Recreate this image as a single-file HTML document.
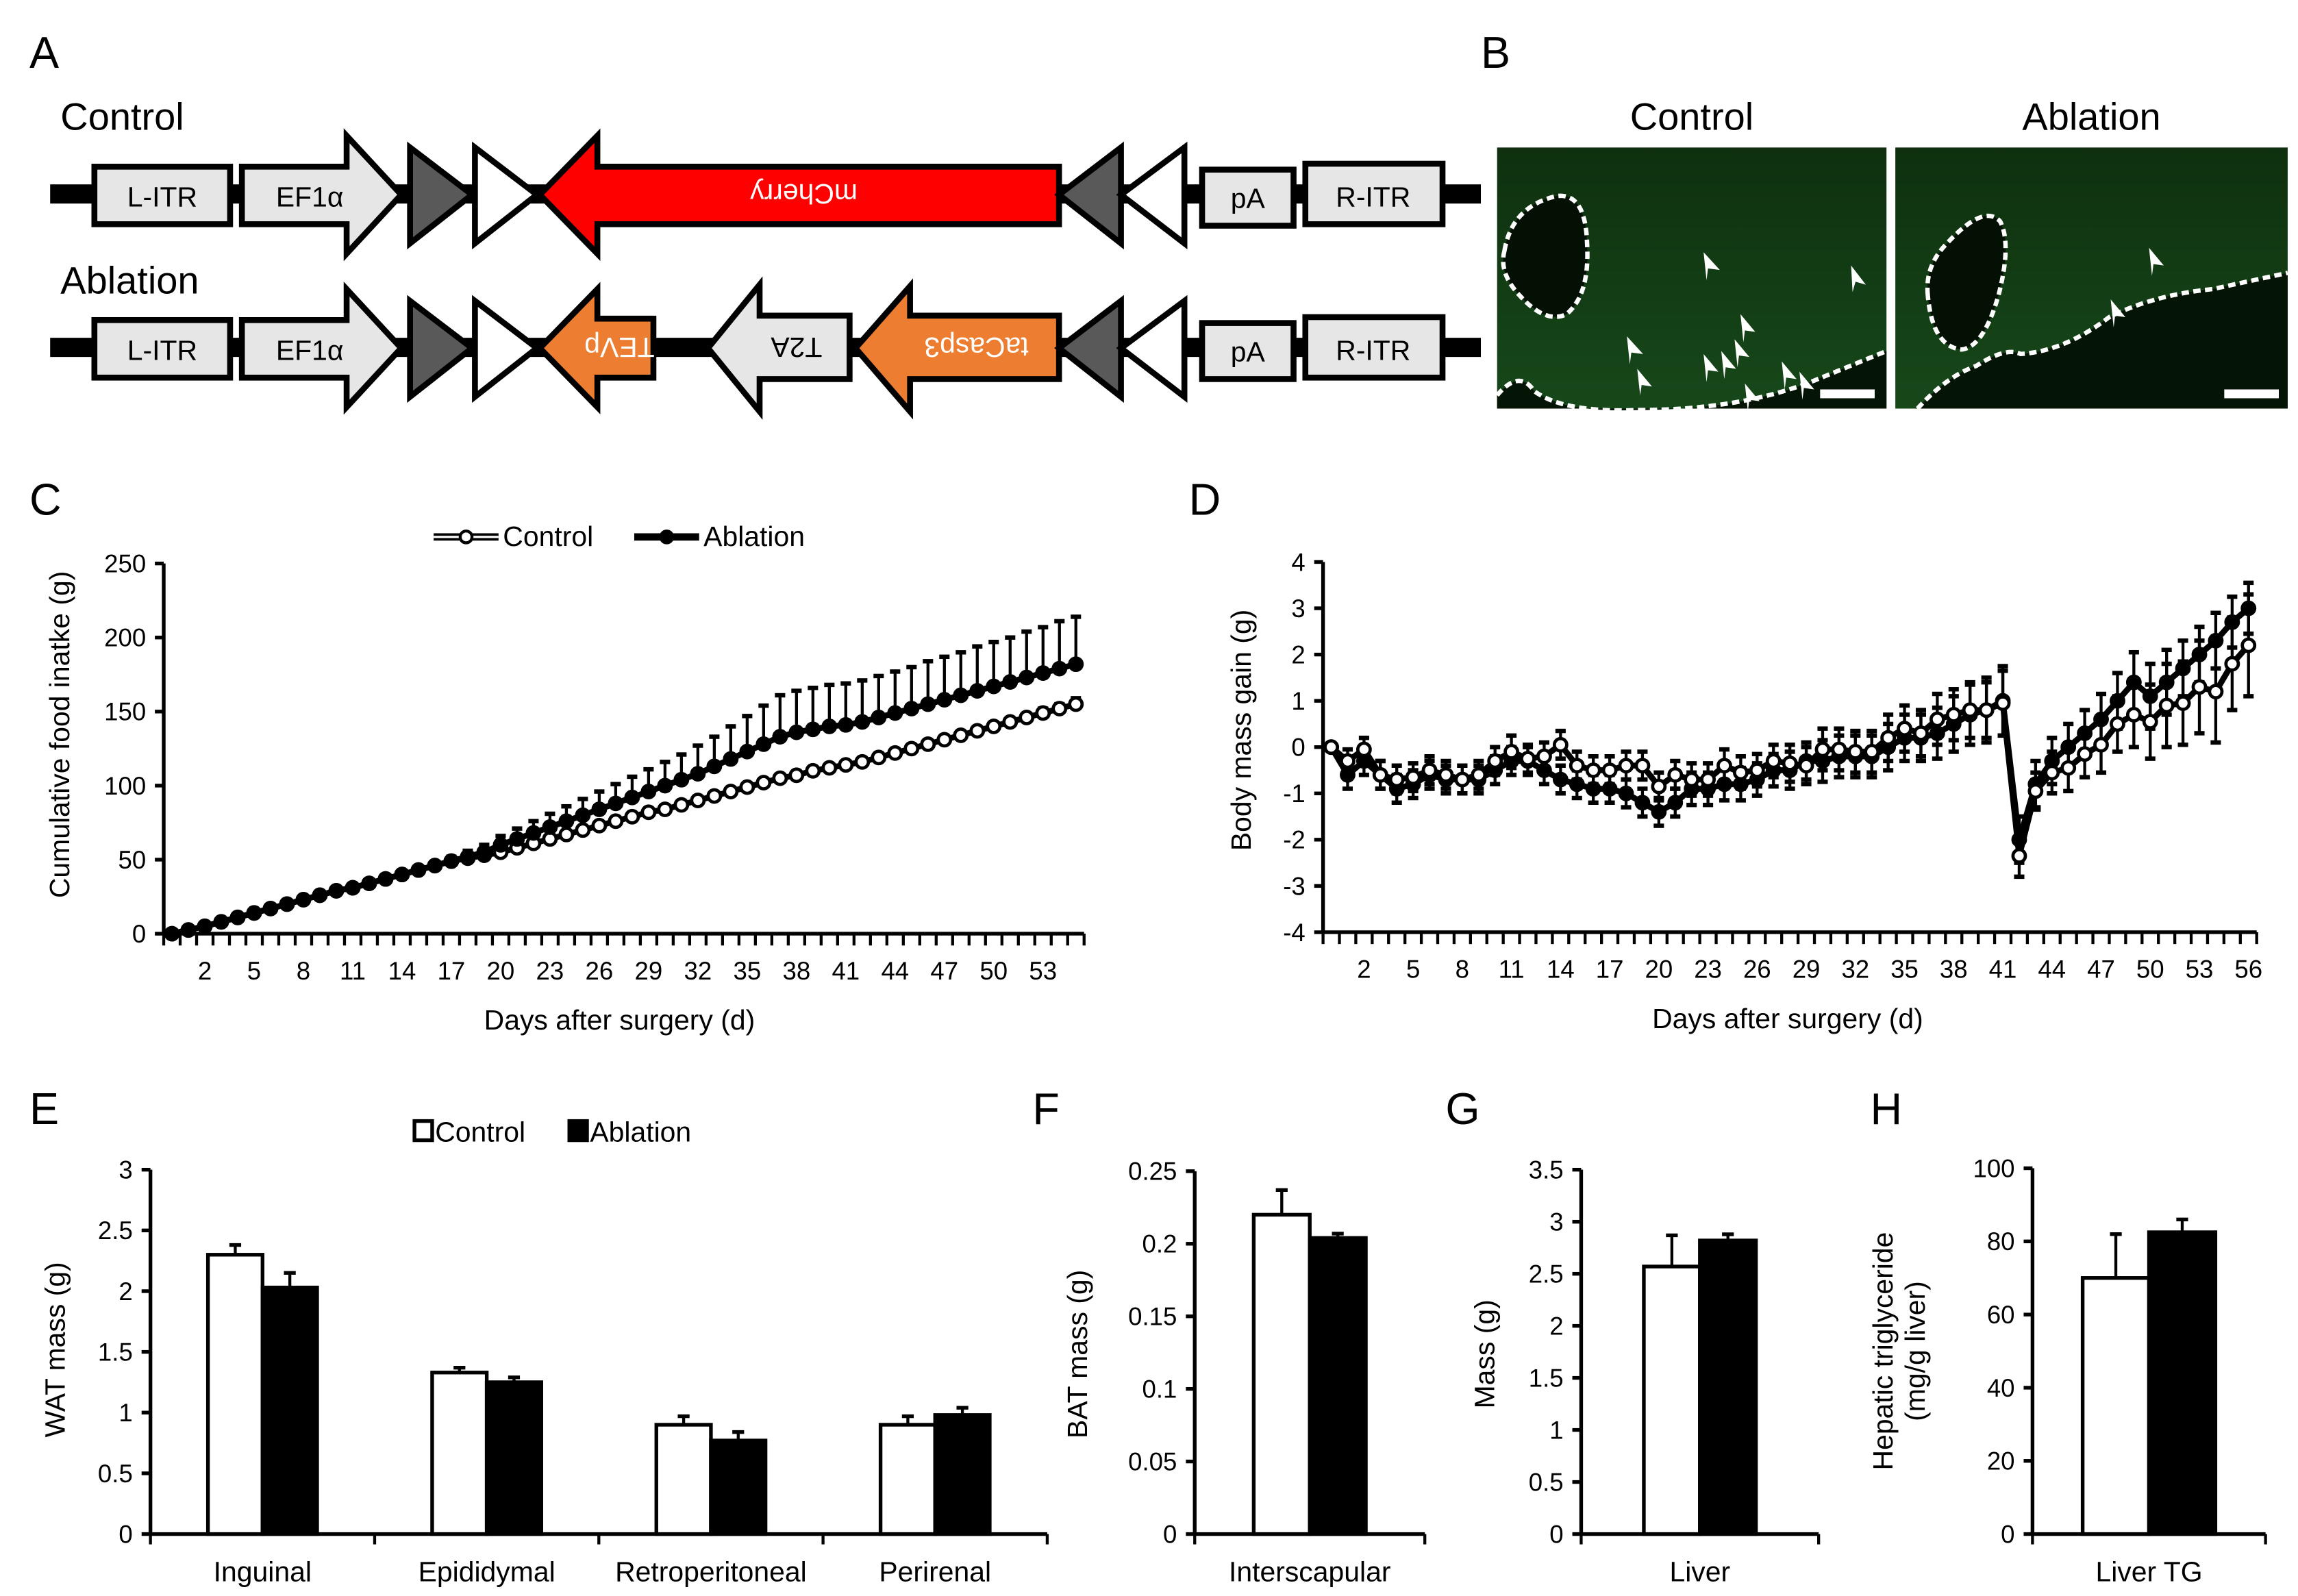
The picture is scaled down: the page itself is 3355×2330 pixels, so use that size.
<!DOCTYPE html>
<html><head><meta charset="utf-8"><style>
html,body{margin:0;padding:0;background:#fff}
svg{display:block}
text{font-family:"Liberation Sans",Arial,sans-serif;fill:#000}
</style></head><body>
<svg id="fig" xmlns="http://www.w3.org/2000/svg" width="3355" height="2330" viewBox="0 0 1558 1082" preserveAspectRatio="none">
<rect width="1558" height="1082" fill="#fff"/>
<!-- Panel A -->
<g stroke="#000" stroke-width="4" stroke-linejoin="miter">
<text x="20" y="46" font-size="30" stroke="none">A</text>
<text x="41" y="88" font-size="26" stroke="none">Control</text>
<text x="41" y="199" font-size="26" stroke="none">Ablation</text>
<g>
<rect x="34" y="125" width="970" height="13" fill="#000" stroke="none"/>
<rect x="64" y="113" width="92" height="39" fill="#e6e6e6"/>
<polygon points="164,113 235,113 235,92 272,132 235,172 235,152 164,152" fill="#e6e6e6"/>
<polygon points="278,100 320,132 278,165" fill="#595959"/>
<polygon points="322,100 364,132 322,165" fill="#fff"/>
<polygon points="366,132 405,92 405,113 718,113 718,152 405,152 405,172" fill="#ff0000"/>
<polygon points="718,132 760,100 760,165" fill="#595959"/>
<polygon points="760,132 803,100 803,165" fill="#fff"/>
<rect x="815" y="115" width="62" height="38" fill="#e6e6e6"/>
<rect x="885" y="111" width="93" height="41" fill="#e6e6e6"/>
<g stroke="none" font-size="19">
<text x="110" y="140" text-anchor="middle">L-ITR</text>
<text x="210" y="140" text-anchor="middle">EF1α</text>
<text x="545" y="139" text-anchor="middle" transform="rotate(180 545 132)" style="fill:#fff">mCherry</text>
<text x="846" y="141" text-anchor="middle">pA</text>
<text x="931" y="140" text-anchor="middle">R-ITR</text>
</g></g>
<g>
<rect x="34" y="229" width="970" height="13" fill="#000" stroke="none"/>
<rect x="64" y="217" width="92" height="39" fill="#e6e6e6"/>
<polygon points="164,217 235,217 235,196 272,236 235,276 235,256 164,256" fill="#e6e6e6"/>
<polygon points="278,204 320,236 278,269" fill="#595959"/>
<polygon points="322,204 364,236 322,269" fill="#fff"/>
<polygon points="366,236 405,196 405,216 443,216 443,256 405,256 405,276" fill="#ed7d31"/>
<polygon points="480,236 515,193 515,214 576,214 576,257 515,257 515,279" fill="#e6e6e6"/>
<polygon points="580,236 617,194 617,214 718,214 718,257 617,257 617,279" fill="#ed7d31"/>
<polygon points="718,236 760,204 760,269" fill="#595959"/>
<polygon points="760,236 803,204 803,269" fill="#fff"/>
<rect x="815" y="219" width="62" height="38" fill="#e6e6e6"/>
<rect x="885" y="215" width="93" height="41" fill="#e6e6e6"/>
<g stroke="none" font-size="19">
<text x="110" y="244" text-anchor="middle">L-ITR</text>
<text x="210" y="244" text-anchor="middle">EF1α</text>
<text x="420" y="243" text-anchor="middle" transform="rotate(180 420 236)" style="fill:#fff">TEVp</text>
<text x="540" y="243" text-anchor="middle" transform="rotate(180 540 236)">T2A</text>
<text x="662" y="243" text-anchor="middle" transform="rotate(180 662 236)" style="fill:#fff">taCasp3</text>
<text x="846" y="245" text-anchor="middle">pA</text>
<text x="931" y="244" text-anchor="middle">R-ITR</text>
</g></g>
</g>
<!-- Panel B -->
<g>
<text x="1004" y="46" font-size="30">B</text>
<text x="1147" y="88" font-size="26" text-anchor="middle">Control</text>
<text x="1418" y="88" font-size="26" text-anchor="middle">Ablation</text>
<defs>
<linearGradient id="gg" x1="0" y1="0" x2="0" y2="1"><stop offset="0" stop-color="#0e300e"/><stop offset="1" stop-color="#17481a"/></linearGradient>
</defs>
<g>
<rect x="1015" y="100" width="264" height="177" fill="url(#gg)"/>
<path d="M1015,277 L1015,268 Q1030,250 1040,265 Q1060,280 1110,278 Q1180,278 1230,258 L1279,238 L1279,277 Z" fill="#051505"/>
<path d="M1015,268 Q1030,250 1040,265 Q1060,280 1110,278 Q1180,278 1230,258 L1279,238" fill="none" stroke="#fff" stroke-width="3" stroke-dasharray="5,3"/>
<path d="M1020,170 Q1025,140 1055,133 Q1075,130 1076,165 Q1078,200 1062,213 Q1048,220 1030,200 Q1016,185 1020,170 Z" fill="#041004" stroke="#fff" stroke-width="3" stroke-dasharray="5,3"/>
<rect x="1234" y="264" width="37" height="6" fill="#fff"/>
<g fill="#fff"><polygon points="1155,171 1166,183 1158,182 1157,190"/><polygon points="1255,180 1265,193 1258,191 1256,198"/><polygon points="1103,228 1114,240 1106,239 1105,247"/><polygon points="1110,250 1120,262 1113,261 1112,268"/><polygon points="1155,240 1165,252 1158,251 1157,259"/><polygon points="1167,238 1177,250 1170,249 1169,257"/><polygon points="1176,230 1186,242 1179,241 1178,249"/><polygon points="1180,213 1190,225 1183,224 1182,232"/><polygon points="1208,245 1218,257 1211,256 1210,264"/><polygon points="1220,252 1230,264 1223,263 1222,271"/><polygon points="1183,260 1193,272 1186,271 1185,279"/></g>
</g>
<g>
<rect x="1285" y="100" width="266" height="177" fill="url(#gg)"/>
<path d="M1300,277 Q1320,255 1340,248 Q1360,235 1370,240 Q1400,238 1430,215 Q1460,200 1500,196 L1551,185 L1551,277 Z" fill="#051505"/>
<path d="M1300,277 Q1320,255 1340,248 Q1360,235 1370,240 Q1400,238 1430,215 Q1460,200 1500,196 L1551,185" fill="none" stroke="#fff" stroke-width="3" stroke-dasharray="5,3"/>
<path d="M1307,200 Q1305,180 1320,165 Q1345,138 1356,150 Q1364,165 1355,200 Q1345,235 1330,237 Q1310,235 1307,200 Z" fill="#041004" stroke="#fff" stroke-width="3" stroke-dasharray="5,3"/>
<rect x="1508" y="264" width="37" height="6" fill="#fff"/>
<g fill="#fff"><polygon points="1457,168 1467,180 1460,179 1459,187"/><polygon points="1431,203 1441,215 1434,214 1433,222"/></g>
</g>
</g>
<g id="charts"></g>
</svg>
<script>
// ---------- Panel C data ----------
const cDays = [0,1,2,3,4,5,6,7,8,9,10,11,12,13,14,15,16,17,18,19,20,21,22,23,24,25,26,27,28,29,30,31,32,33,34,35,36,37,38,39,40,41,42,43,44,45,46,47,48,49,50,51,52,53,54,55];
const cTickLabels = ["2","5","8","11","14","17","20","23","26","29","32","35","38","41","44","47","50","53"];
const cYTicks = [0,50,100,150,200,250];
const cControl = [0,2.5,5,8,11,14,17,20,23,26,29,31,34,37,40,43,46,49,51,53,55,58,61,64,67,70,73,76,79,82,84,87,90,93,96,99,102,105,107,110,112,114,116,119,122,125,128,131,134,137,140,143,146,149,152,155];
const cControlErr = [0,0,0,0,0,0,0,0,1,1,1,1,1,1,1,1,2,2,2,2,2,2,2,2,2,2,2,2,2,2,2,2,2,2,2,2,2,2,2,2,2,2,2,2,2,2,2,2,2,2,2,2,2,3,3,4];
const cAblation = [0,2.5,5,8,11,14,17,20,23,26,29,31,34,37,40,43,46,49,52,55,60,64,68,72,76,80,84,88,92,96,100,104,108,113,118,123,128,133,136,138,140,141,143,146,149,152,155,158,161,164,167,170,173,176,179,182];
const cAblationErr = [0,0,0,0,0,0,0,0,0,0,0,0,0,0,0,1,2,3,4,5,6,7,8,9,10,11,12,13,14,15,16,17,19,20,22,24,26,28,28,28,28,28,28,28,28,28,29,29,29,30,30,30,31,31,32,32];
// ---------- Panel D data ----------
const dDays = [0,1,2,3,4,5,6,7,8,9,10,11,12,13,14,15,16,17,18,19,20,21,22,23,24,25,26,27,28,29,30,31,32,33,34,35,36,37,38,39,40,41,42,43,44,45,46,47,48,49,50,51,52,53,54,55,56];
const dTickLabels = ["2","5","8","11","14","17","20","23","26","29","32","35","38","41","44","47","50","53","56"];
const dYTicks = [-4,-3,-2,-1,0,1,2,3,4];
const dControl = [0,-0.3,-0.05,-0.6,-0.7,-0.65,-0.5,-0.6,-0.7,-0.6,-0.3,-0.1,-0.25,-0.2,0.05,-0.4,-0.5,-0.5,-0.4,-0.4,-0.85,-0.6,-0.7,-0.7,-0.4,-0.55,-0.5,-0.3,-0.35,-0.4,-0.05,-0.05,-0.1,-0.1,0.2,0.4,0.3,0.6,0.7,0.8,0.8,0.95,-2.35,-0.95,-0.55,-0.45,-0.15,0.05,0.5,0.7,0.55,0.9,0.95,1.3,1.2,1.8,2.2];
const dControlErr = [0,0.25,0.25,0.3,0.3,0.3,0.3,0.3,0.3,0.3,0.3,0.35,0.3,0.3,0.3,0.3,0.3,0.3,0.3,0.3,0.3,0.3,0.35,0.35,0.35,0.35,0.35,0.35,0.4,0.4,0.45,0.45,0.45,0.45,0.5,0.5,0.5,0.55,0.55,0.6,0.6,0.7,0.45,0.4,0.45,0.5,0.5,0.6,0.6,0.7,0.8,0.9,0.9,1.0,1.1,1.0,1.1];
const dAblation = [0,-0.6,-0.3,-0.6,-0.9,-0.8,-0.6,-0.7,-0.7,-0.7,-0.5,-0.3,-0.3,-0.5,-0.7,-0.8,-0.9,-0.9,-1.0,-1.2,-1.4,-1.2,-0.9,-0.9,-0.8,-0.8,-0.7,-0.5,-0.5,-0.3,-0.3,-0.2,-0.2,-0.2,0,0.2,0.2,0.3,0.5,0.7,0.8,1.0,-2.0,-0.8,-0.3,0,0.3,0.6,1.0,1.4,1.1,1.4,1.7,2.0,2.3,2.7,3.0];
const dAblationErr = [0,0.3,0.3,0.3,0.3,0.3,0.3,0.3,0.3,0.3,0.3,0.3,0.3,0.3,0.3,0.3,0.3,0.3,0.3,0.3,0.3,0.3,0.35,0.35,0.35,0.35,0.35,0.35,0.4,0.4,0.45,0.45,0.45,0.45,0.5,0.5,0.5,0.55,0.6,0.65,0.7,0.75,0.5,0.5,0.5,0.5,0.5,0.55,0.6,0.65,0.7,0.7,0.6,0.6,0.6,0.55,0.55];
// ---------- Panel E-H data ----------
const eCats = ["Inguinal","Epididymal","Retroperitoneal","Perirenal"];
const eControl = [2.3,1.33,0.9,0.9];
const eControlErr = [0.08,0.04,0.07,0.07];
const eAblation = [2.03,1.25,0.77,0.98];
const eAblationErr = [0.12,0.04,0.07,0.06];
const eYTicks = ["0","0.5","1","1.5","2","2.5","3"];
const fCats = ["Interscapular"];
const fControl = [0.22]; const fControlErr = [0.017];
const fAblation = [0.204]; const fAblationErr = [0.003];
const fYTicks = ["0","0.05","0.1","0.15","0.2","0.25"];
const gCats = ["Liver"];
const gControl = [2.57]; const gControlErr = [0.3];
const gAblation = [2.82]; const gAblationErr = [0.06];
const gYTicks = ["0","0.5","1","1.5","2","2.5","3","3.5"];
const hCats = ["Liver TG"];
const hControl = [70]; const hControlErr = [12];
const hAblation = [82.5]; const hAblationErr = [3.5];
const hYTicks = ["0","20","40","60","80","100"];

const NS="http://www.w3.org/2000/svg";
const root=document.getElementById('charts');
function mk(tag,attrs,parent,txt){const e=document.createElementNS(NS,tag);for(const k in attrs)e.setAttribute(k,attrs[k]);if(txt!==undefined)e.textContent=txt;(parent||root).appendChild(e);return e;}

function lineChart(o){
  const g=mk('g',{});
  
  
  const n=o.days.length, cw=(o.x1-o.x0)/n;
  const X=i=>o.x0+cw*(i+0.5);
  const Y=v=>o.yb-(v-o.ymin)/(o.ymax-o.ymin)*(o.yb-o.yt);
  const ya=mk('line',{x1:o.x0,y1:o.yt,x2:o.x0,y2:o.yb,stroke:'#000','stroke-width':2.5},g);
  
  
  const xa=mk('line',{x1:o.x0,y1:o.yb,x2:o.x1,y2:o.yb,stroke:'#000','stroke-width':2.5},g);
  
  
  o.yticks.forEach(v=>{
    mk('line',{x1:o.x0-6,y1:Y(v),x2:o.x0,y2:Y(v),stroke:'#000','stroke-width':2.5},g);
    const t=mk('text',{x:o.x0-12,y:Y(v)+6,'font-size':17,'text-anchor':'end'},g,String(v));
    
    
  });
  for(let i=0;i<=n;i++) mk('line',{x1:o.x0+cw*i,y1:o.yb,x2:o.x0+cw*i,y2:o.yb+8,stroke:'#000','stroke-width':2},g);
  o.ticks.forEach(l=>{
    const i=o.days.indexOf(Number(l));
    const t=mk('text',{x:X(i),y:o.yb+31,'font-size':17,'text-anchor':'middle'},g,l);
    
    
  });
  const series=[[o.ctl,o.ctlErr,'#fff','control'],[o.abl,o.ablErr,'#000','ablation']];
  if(o.ablFirst) series.reverse();
  series.forEach(([vals,err,fill,nm])=>{
    const sg=mk('g',{},g);
    
    
    vals.forEach((v,i)=>{
      if(err[i]>0){
        const up=Y(v+err[i]), lo=Y(v-(o.both?err[i]:0));
        mk('line',{x1:X(i),y1:up,x2:X(i),y2:lo,stroke:'#000','stroke-width':2},sg);
        mk('line',{x1:X(i)-3.5,y1:up,x2:X(i)+3.5,y2:up,stroke:'#000','stroke-width':3},sg);
        if(o.both) mk('line',{x1:X(i)-3.5,y1:lo,x2:X(i)+3.5,y2:lo,stroke:'#000','stroke-width':3},sg);
      }
    });
    const p=mk('polyline',{points:vals.map((v,i)=>X(i)+','+Y(v)).join(' '),fill:'none',stroke:'#000','stroke-width':4,'stroke-linejoin':'round'},sg);
    
    
    vals.forEach((v,i)=>{
      const c=mk('circle',{cx:X(i),cy:Y(v),r:4.2,fill:fill,stroke:'#000','stroke-width':2.2},sg);
      
      
    });
  });
  return g;
}

lineChart({name:'panel-c-food-intake-chart',days:cDays,ticks:cTickLabels,yticks:cYTicks,x0:111,x1:735,yt:382,yb:633,ymin:0,ymax:250,ctl:cControl,ctlErr:cControlErr,abl:cAblation,ablErr:cAblationErr,both:false});
lineChart({name:'panel-d-body-mass-chart',days:dDays,ticks:dTickLabels,yticks:dYTicks,x0:897,x1:1530,yt:381,yb:632,ymin:-4,ymax:4,ctl:dControl,ctlErr:dControlErr,abl:dAblation,ablErr:dAblationErr,both:true,ablFirst:true});

function barChart(o){
  const g=mk('g',{});
  
  
  const n=o.cats.length, cw=(o.x1-o.x0)/n;
  const ymax=Number(o.yticks[o.yticks.length-1]);
  const Y=v=>o.yb-v/ymax*(o.yb-o.yt);
  mk('line',{x1:o.x0,y1:o.yt,x2:o.x0,y2:o.yb,stroke:'#000','stroke-width':2.5},g);
  mk('line',{x1:o.x0,y1:o.yb,x2:o.x1,y2:o.yb,stroke:'#000','stroke-width':2.5},g);
  o.yticks.forEach(l=>{
    const v=Number(l);
    mk('line',{x1:o.x0-6,y1:Y(v),x2:o.x0,y2:Y(v),stroke:'#000','stroke-width':2.5},g);
    const t=mk('text',{x:o.x0-12,y:Y(v)+6,'font-size':17,'text-anchor':'end'},g,l);
    
    
  });
  for(let i=0;i<=n;i++) mk('line',{x1:o.x0+cw*i,y1:o.yb,x2:o.x0+cw*i,y2:o.yb+7,stroke:'#000','stroke-width':2},g);
  o.cats.forEach((c,i)=>{
    const cx=o.x0+cw*(i+0.5);
    [[o.ctl,o.ctlErr,'#fff',-o.bw,'control-bar'],[o.abl,o.ablErr,'#000',0,'ablation-bar']].forEach(([vals,err,fill,off,nm])=>{
      const v=vals[i], x=cx+off;
      const top=Y(v+err[i]);
      mk('line',{x1:x+o.bw/2,y1:top,x2:x+o.bw/2,y2:Y(v),stroke:'#000','stroke-width':2},g);
      mk('line',{x1:x+o.bw/2-4,y1:top,x2:x+o.bw/2+4,y2:top,stroke:'#000','stroke-width':2.5},g);
      const r=mk('rect',{x:x,y:Y(v),width:o.bw,height:o.yb-Y(v),fill:fill,stroke:'#000','stroke-width':2.5},g);
      
      
    });
    const t=mk('text',{x:cx,y:o.yb+32,'font-size':19,'text-anchor':'middle'},g,c);
    
    
  });
  return g;
}
barChart({name:'panel-e-wat-mass-chart',cats:eCats,ctl:eControl,ctlErr:eControlErr,abl:eAblation,ablErr:eAblationErr,yticks:eYTicks,x0:102,x1:710,yt:793,yb:1040,bw:37});
barChart({name:'panel-f-bat-mass-chart',cats:fCats,ctl:fControl,ctlErr:fControlErr,abl:fAblation,ablErr:fAblationErr,yticks:fYTicks,x0:810,x1:966,yt:794,yb:1040,bw:38});
barChart({name:'panel-g-liver-mass-chart',cats:gCats,ctl:gControl,ctlErr:gControlErr,abl:gAblation,ablErr:gAblationErr,yticks:gYTicks,x0:1072,x1:1233,yt:793,yb:1040,bw:38});
barChart({name:'panel-h-liver-tg-chart',cats:hCats,ctl:hControl,ctlErr:hControlErr,abl:hAblation,ablErr:hAblationErr,yticks:hYTicks,x0:1378,x1:1536,yt:792,yb:1040,bw:45});

function lab(x,y,s,txt,name,rot,anchor){
  const t=mk('text',{x:x,y:y,'font-size':s,'text-anchor':anchor||'middle'},root,txt);
  if(rot) t.setAttribute('transform','rotate(-90 '+x+' '+y+')');
  
  
}
lab(20,349,30,'C','panel-label-c',0,'start');
lab(806,349,30,'D','panel-label-d',0,'start');
lab(20,762,30,'E','panel-label-e',0,'start');
lab(700,762,30,'F','panel-label-f',0,'start');
lab(980,762,30,'G','panel-label-g',0,'start');
lab(1268,762,30,'H','panel-label-h',0,'start');
lab(420,698,19,'Days after surgery (d)','x-axis-title-c');
lab(1212,697,19,'Days after surgery (d)','x-axis-title-d');
lab(47,498,19,'Cumulative food inatke (g)','y-axis-title-c',1);
lab(848,495,19,'Body mass gain (g)','y-axis-title-d',1);
lab(44,915,19,'WAT mass (g)','y-axis-title-e',1);
lab(737,918,19,'BAT mass (g)','y-axis-title-f',1);
lab(1013,918,19,'Mass (g)','y-axis-title-g',1);
lab(1283,916,19,'Hepatic triglyceride','y-axis-title-h',1);
lab(1305,916,19,'(mg/g liver)','y-axis-title-h-units',1);
const lg=mk('g',{});


mk('line',{x1:294,y1:364,x2:338,y2:364,stroke:'#000','stroke-width':5},lg);
mk('line',{x1:294,y1:364,x2:338,y2:364,stroke:'#fff','stroke-width':1.5},lg);
mk('circle',{cx:316,cy:364,r:4,fill:'#fff',stroke:'#000','stroke-width':2},lg);
mk('text',{x:341,y:370,'font-size':19},lg,'Control');
mk('line',{x1:430,y1:364,x2:474,y2:364,stroke:'#000','stroke-width':5},lg);
mk('circle',{cx:452,cy:364,r:4,fill:'#000',stroke:'#000','stroke-width':2},lg);
mk('text',{x:477,y:370,'font-size':19},lg,'Ablation');
const le=mk('g',{});


mk('rect',{x:281,y:760,width:12,height:13,fill:'#fff',stroke:'#000','stroke-width':2.5},le);
mk('text',{x:295,y:774,'font-size':19},le,'Control');
mk('rect',{x:386,y:760,width:12,height:13,fill:'#000',stroke:'#000','stroke-width':2.5},le);
mk('text',{x:400,y:774,'font-size':19},le,'Ablation');
</script>
</body></html>
